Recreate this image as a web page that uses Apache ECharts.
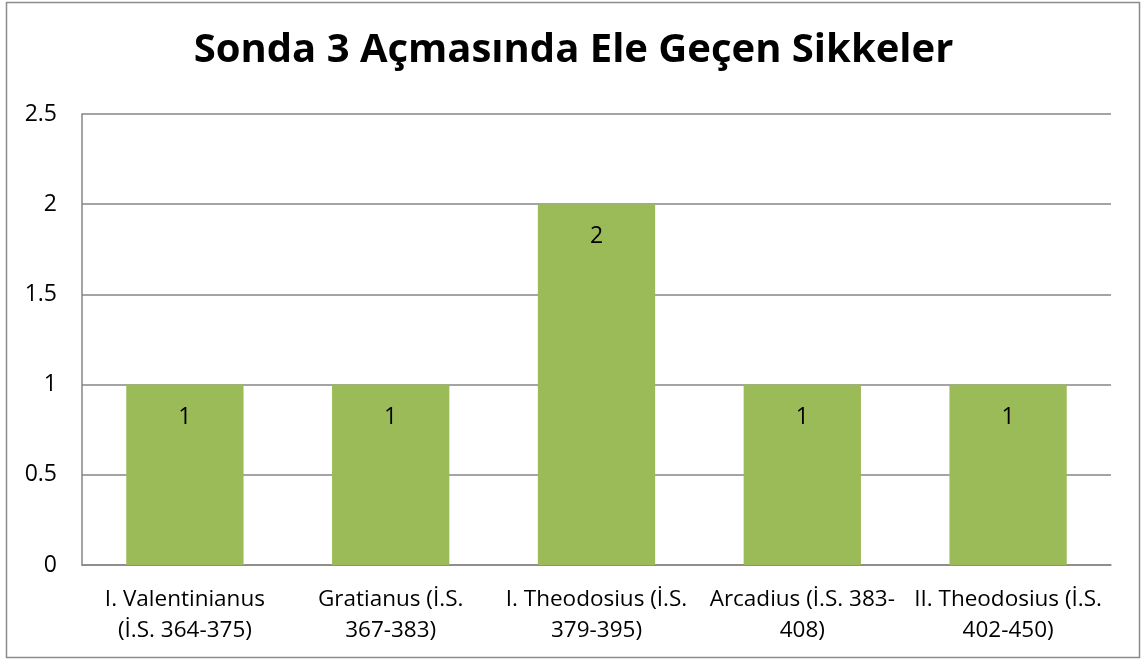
<!DOCTYPE html>
<html>
<head>
<meta charset="utf-8">
<script src="https://cdn.jsdelivr.net/npm/echarts@6/dist/echarts.min.js"></script>
<style>
html,body{margin:0;padding:0;background:#fff;}
#main{width:1147px;height:664px;}
</style>
</head>
<body>
<div id="main"></div>
<script>
var titleText = 'Sonda 3 Açmasında Ele Geçen Sikkeler';
var categories = [
  'I. Valentinianus\n(İ.S. 364-375)',
  'Gratianus (İ.S.\n367-383)',
  'I. Theodosius (İ.S.\n379-395)',
  'Arcadius (İ.S. 383-\n408)',
  'II. Theodosius (İ.S.\n402-450)'
];
var coinCounts = [1, 1, 2, 1, 1];
var yTicks = [0, 0.5, 1, 1.5, 2, 2.5];

var myChart = echarts.init(document.getElementById('main'));
var font = 'Open Sans, Noto Sans, sans-serif';

option = {
  backgroundColor: '#fff',
  animation: false,
  title: {
    text: titleText,
    left: 'center',
    top: 26,
    textStyle: {
      fontFamily: font,
      fontSize: 40,
      fontWeight: 'bold',
      color: '#000'
    }
  },
  graphic: [
    {
      type: 'rect',
      shape: { x: 6.5, y: 2.5, width: 1133, height: 655 },
      style: { fill: 'none', stroke: '#8c8c8c', lineWidth: 1.5 },
      silent: true
    }
  ],
  grid: {
    left: 82,
    right: 36,
    top: 114,
    bottom: 99
  },
  xAxis: {
    type: 'category',
    data: categories,
    axisLine: { lineStyle: { color: '#868686', width: 1.5 } },
    axisTick: { show: false },
    axisLabel: {
      interval: 0,
      margin: 19,
      lineHeight: 31,
      fontFamily: font,
      fontSize: 22.5,
      color: '#000'
    }
  },
  yAxis: {
    type: 'value',
    min: yTicks[0],
    max: yTicks[yTicks.length - 1],
    interval: 0.5,
    axisLine: { show: true, lineStyle: { color: '#868686', width: 1.5 } },
    axisTick: { show: false },
    splitLine: { lineStyle: { color: '#868686', width: 1.5 } },
    axisLabel: {
      margin: 25,
      fontFamily: font,
      fontSize: 23,
      color: '#000'
    }
  },
  series: [
    {
      type: 'bar',
      data: coinCounts,
      barWidth: '57%',
      itemStyle: { color: '#9BBB59' },
      label: {
        show: true,
        position: 'insideTop',
        distance: 21,
        fontFamily: font,
        fontSize: 23,
        color: '#000'
      }
    }
  ]
};

myChart.setOption(option);
</script>
</body>
</html>
